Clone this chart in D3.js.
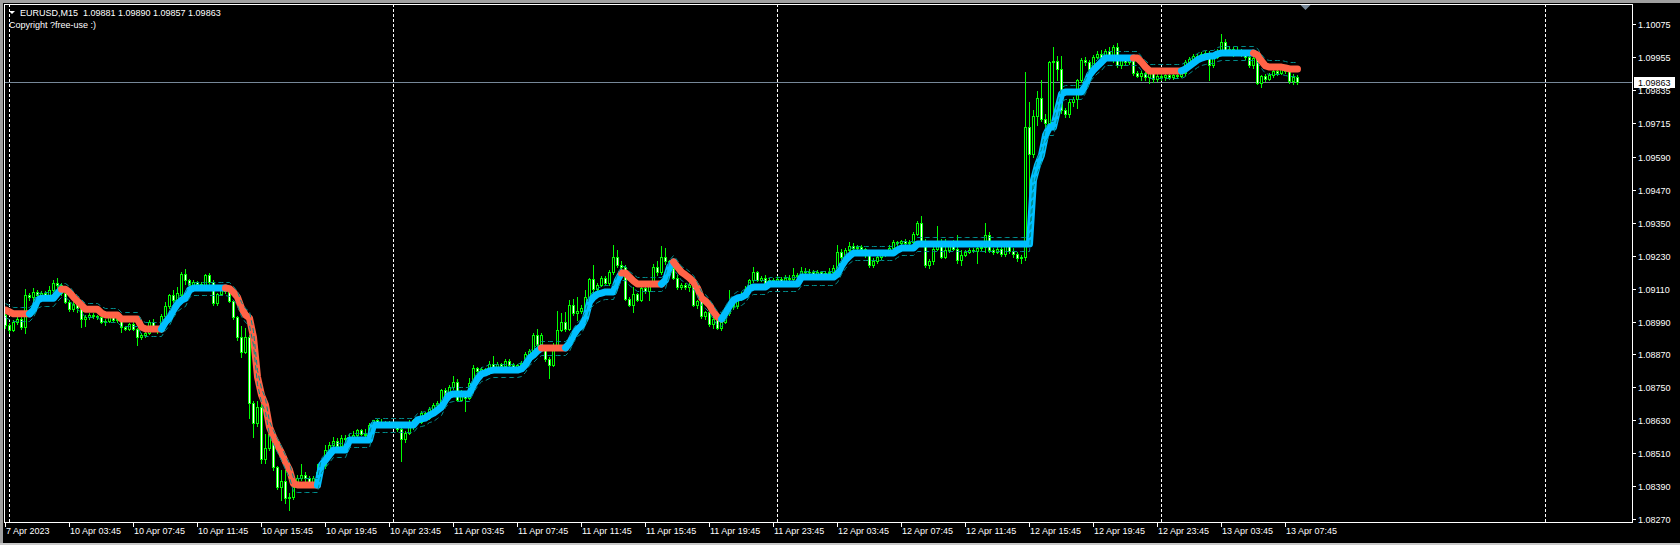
<!DOCTYPE html>
<html><head><meta charset="utf-8">
<script src="https://cdn.jsdelivr.net/npm/d3@7"></script>
<style>html,body{margin:0;padding:0;background:#000;overflow:hidden}svg{display:block}</style>
</head><body><div id="chart"></div>
<script>
// ---------- DATA ----------
const symbol = "EURUSD,M15";
const copyrightText = "Copyright ?free-use :)";
// prices are stored in points (0.00001) above this base price
const basePrice = 1.08;
const pointSize = 0.00001;

const openPts = [
1014,977,960,988,1000,970,1085,1080,1098,1085,
1093,1088,1105,1130,1122,1095,1063,1035,1055,1040,
998,1005,1015,1010,1005,988,992,1010,995,1000,
970,963,980,962,935,942,950,990,972,968,
1012,1048,1085,1070,1087,1165,1140,1125,1135,1128,
1118,1158,1135,1058,1090,1110,1100,1065,1005,935,
880,935,693,620,680,490,530,580,458,388,
410,345,350,390,418,432,420,405,418,440,
468,520,540,555,535,565,560,570,575,595,
580,575,612,630,625,610,620,615,612,600,
560,585,605,630,625,655,640,670,685,693,
740,722,750,770,705,730,712,765,820,810,
818,805,835,820,835,828,845,832,822,830,
838,872,882,940,905,890,852,832,905,958,
990,962,1050,1020,1030,1040,1080,1145,1110,1125,
1148,1130,1170,1225,1195,1190,1072,1050,1090,1070,
1112,1100,1125,1190,1170,1225,1210,1185,1150,1115,
1125,1115,1122,1050,1065,1010,1025,980,1000,968,
990,1020,1060,1045,1075,1090,1110,1140,1170,1142,
1150,1132,1140,1135,1145,1138,1150,1145,1160,1155,
1175,1170,1172,1165,1170,1162,1168,1172,1185,1245,
1225,1250,1265,1258,1262,1255,1232,1195,1212,1225,
1240,1235,1260,1280,1275,1282,1275,1280,1310,1350,
1285,1195,1210,1255,1285,1225,1250,1275,1255,1215,
1232,1245,1252,1248,1258,1262,1305,1252,1245,1255,
1235,1265,1248,1238,1220,1225,1700,1600,1740,1805,
1730,1715,1935,1940,1910,1760,1745,1790,1800,1870,
1945,1935,1910,1955,1965,1955,1975,1960,1990,1925,
1945,1935,1945,1895,1885,1895,1880,1895,1875,1885,
1880,1888,1882,1890,1885,1895,1935,1948,1958,1955,
1965,1970,1925,1955,1975,2010,1975,1985,1970,1980,
1968,1955,1925,1950,1860,1885,1875,1888,1905,1898,
1912,1905,1868,1881];

const highPts = [
1032,985,995,1010,1008,1110,1095,1112,1105,1100,
1100,1121,1141,1150,1130,1098,1068,1060,1068,1045,
1013,1022,1020,1015,1025,1000,1015,1014,1005,1003,
975,985,990,965,950,955,995,998,975,1018,
1060,1090,1105,1115,1170,1180,1145,1140,1138,1135,
1165,1168,1140,1095,1115,1112,1105,1070,1010,975,
965,940,700,700,690,580,590,585,462,450,
450,365,420,430,470,440,425,425,470,480,
540,550,570,565,575,575,580,590,600,600,
598,620,632,635,633,628,628,625,618,605,
590,630,635,640,665,660,678,692,700,745,
748,758,790,780,740,735,785,830,825,825,
820,845,865,842,840,852,852,838,835,845,
878,890,948,962,950,895,860,910,1027,1020,
1025,1068,1072,1080,1050,1105,1150,1195,1130,1155,
1155,1178,1270,1250,1210,1195,1078,1115,1095,1118,
1120,1130,1200,1210,1265,1260,1215,1195,1160,1132,
1130,1130,1125,1070,1070,1030,1030,1010,1005,1000,
1030,1105,1075,1085,1098,1118,1145,1190,1175,1155,
1160,1148,1150,1155,1152,1158,1160,1185,1168,1190,
1185,1180,1178,1178,1175,1175,1185,1195,1268,1255,
1258,1280,1275,1268,1270,1260,1240,1220,1230,1248,
1250,1268,1288,1285,1288,1290,1288,1318,1358,1375,
1290,1218,1262,1340,1292,1290,1282,1288,1305,1250,
1252,1258,1258,1262,1272,1350,1318,1260,1262,1262,
1272,1270,1258,1242,1232,1900,1790,1760,1830,1870,
1745,1940,1990,1960,1960,1770,1800,1810,1875,1950,
1955,1945,1962,1975,1980,1985,1990,2000,2005,1960,
1955,1958,1950,1905,1905,1900,1905,1900,1895,1892,
1895,1895,1898,1895,1902,1942,1955,1965,1965,1972,
1978,1975,1965,1985,2040,2020,1995,1992,1990,1985,
1972,1965,1960,1955,1890,1892,1895,1912,1912,1918,
1915,1912,1892,1890];

const lowPts = [
966,950,955,980,962,948,1070,1062,1078,1075,
1080,1080,1100,1112,1088,1058,1028,1030,1025,970,
972,1000,1003,998,985,978,988,990,990,952,
958,958,958,905,928,935,945,968,948,952,
1008,1040,1062,1065,1080,1128,1118,1118,1120,1112,
1115,1110,1050,1050,1085,1095,1060,1000,922,860,
875,640,570,610,475,475,520,450,380,340,
330,302,342,385,414,410,398,400,395,435,
455,505,525,528,530,550,555,560,565,575,
572,570,598,618,605,605,610,605,590,480,
550,580,600,618,620,630,635,662,680,688,
718,718,745,700,700,665,708,760,800,805,
798,800,815,815,820,820,828,818,815,825,
822,868,878,900,898,845,785,828,900,955,
955,958,1015,995,1020,1035,1075,1095,1105,1120,
1125,1125,1165,1190,1170,1068,1045,1025,1065,1065,
1095,1068,1120,1160,1165,1200,1180,1145,1108,1108,
1110,1100,1045,1040,1003,1000,975,968,962,960,
985,1015,1035,1040,1068,1085,1100,1135,1138,1138,
1128,1125,1125,1130,1130,1132,1140,1138,1148,1150,
1165,1165,1158,1160,1155,1158,1162,1165,1180,1218,
1220,1245,1250,1252,1248,1225,1188,1190,1205,1218,
1228,1232,1255,1268,1270,1270,1268,1275,1305,1278,
1188,1185,1200,1250,1220,1220,1245,1250,1205,1195,
1228,1240,1242,1205,1250,1245,1245,1238,1240,1228,
1228,1240,1225,1212,1205,1215,1350,1590,1706,1720,
1700,1700,1700,1870,1750,1735,1735,1775,1770,1865,
1925,1900,1905,1950,1948,1950,1955,1935,1918,1915,
1925,1930,1888,1880,1870,1870,1860,1865,1868,1870,
1872,1875,1876,1878,1880,1890,1930,1945,1948,1950,
1960,1870,1918,1950,1970,1965,1965,1960,1962,1960,
1948,1920,1915,1855,1845,1868,1870,1880,1890,1892,
1898,1860,1855,1857];

const closePts = [
977,959,988,1000,970,1085,1080,1098,1085,1093,
1088,1105,1130,1122,1095,1063,1035,1055,1040,998,
1005,1015,1010,1005,988,992,1010,995,1000,970,
963,980,962,935,942,950,990,972,955,1012,
1048,1085,1070,1095,1165,1140,1125,1135,1128,1118,
1158,1135,1058,1090,1110,1100,1065,1005,935,880,
935,693,620,680,490,530,580,458,388,410,
345,350,385,418,432,420,405,418,440,468,
520,540,555,535,565,560,570,575,595,580,
575,612,630,625,610,620,615,612,600,560,
585,605,630,625,655,640,670,685,693,740,
722,750,770,705,730,712,765,820,810,818,
805,835,820,835,828,845,832,822,830,838,
872,882,940,905,940,852,832,905,958,990,
962,1050,1020,1030,1040,1080,1145,1110,1125,1148,
1130,1170,1225,1195,1190,1072,1050,1090,1070,1112,
1100,1125,1190,1170,1225,1210,1185,1150,1115,1125,
1115,1122,1050,1065,1010,1025,980,1000,968,990,
1020,1060,1045,1075,1090,1110,1140,1170,1142,1150,
1132,1140,1135,1145,1138,1150,1145,1160,1155,1175,
1170,1172,1165,1170,1162,1168,1172,1185,1245,1225,
1250,1265,1258,1262,1255,1232,1195,1212,1225,1240,
1235,1260,1280,1275,1282,1275,1280,1310,1350,1285,
1195,1210,1255,1285,1225,1250,1275,1255,1215,1232,
1245,1252,1248,1258,1262,1305,1252,1245,1255,1235,
1265,1248,1238,1220,1225,1700,1600,1740,1805,1730,
1715,1935,1940,1910,1760,1745,1790,1800,1870,1945,
1935,1910,1955,1965,1955,1975,1960,1990,1925,1945,
1935,1945,1895,1885,1895,1880,1895,1875,1885,1880,
1888,1882,1890,1885,1895,1935,1948,1958,1955,1965,
1970,1925,1955,1975,2010,1975,1985,1970,1980,1968,
1955,1925,1950,1860,1885,1875,1888,1905,1898,1912,
1905,1868,1881,1863];

// trend indicator: [bar, points] – value holds until next entry
const trendKnots = [[0,1032],[1,1025],[2,1018],[7,1032],[8,1068],[9,1075],[13,1093],[14,1108],[16,1097],[17,1079],[18,1064],[19,1050],[20,1035],[24,1021],[25,1014],[29,999],[34,970],[35,963],[40,988],[41,1003],[42,1032],[43,1054],[44,1068],[45,1075],[46,1105],[47,1112],[56,1110],[57,1097],[58,1079],[59,1039],[60,1014],[61,1003],[62,933],[63,788],[64,722],[65,686],[66,605],[67,569],[68,540],[69,511],[70,478],[71,449],[72,398],[73,394],[79,467],[80,485],[81,504],[82,522],[86,558],[92,613],[103,631],[104,635],[105,638],[106,649],[107,656],[108,667],[109,678],[110,704],[111,722],[112,726],[117,759],[118,781],[119,799],[120,803],[121,810],[122,813],[129,817],[130,832],[131,857],[132,868],[133,883],[134,894],[141,911],[142,941],[143,963],[144,974],[145,1003],[146,1061],[147,1079],[148,1090],[149,1094],[150,1098],[153,1141],[154,1167],[156,1152],[157,1138],[158,1127],[165,1141],[166,1189],[167,1207],[168,1189],[169,1170],[170,1160],[171,1149],[172,1134],[173,1112],[174,1076],[175,1065],[176,1050],[177,1025],[178,1006],[179,999],[180,1021],[181,1047],[182,1068],[183,1076],[184,1079],[185,1087],[186,1109],[187,1116],[191,1127],[199,1152],[208,1163],[209,1192],[210,1214],[211,1229],[212,1240],[223,1251],[224,1258],[228,1273],[257,1506],[258,1561],[259,1597],[260,1670],[261,1699],[263,1761],[264,1820],[265,1827],[270,1852],[271,1889],[272,1907],[273,1922],[274,1936],[275,1951],[284,1936],[285,1918],[286,1904],[295,1911],[296,1922],[297,1933],[298,1944],[299,1951],[300,1955],[301,1958],[303,1966],[304,1969],[313,1962],[314,1940],[315,1922],[316,1918],[320,1915],[321,1911]];
// trend direction: [bar, 1 = up (blue) / 0 = down (red)]
const trendDirs = [[0,0],[7,1],[15,0],[40,1],[56,0],[79,1],[135,0],[141,1],[155,0],[165,1],[168,0],[180,1],[283,0],[295,1],[313,0]];

const upperKnots = [[0,1056],[1,1049],[2,1042],[7,1056],[8,1092],[9,1099],[13,1117],[14,1132],[16,1121],[17,1103],[18,1088],[19,1074],[20,1059],[24,1045],[25,1038],[29,1023],[34,994],[35,987],[40,1012],[41,1027],[42,1056],[43,1078],[44,1092],[45,1099],[46,1129],[47,1136],[56,1134],[57,1121],[58,1103],[59,1063],[60,1038],[61,1027],[62,957],[63,812],[64,746],[65,710],[66,629],[67,593],[68,564],[69,535],[70,502],[71,473],[72,422],[73,418],[79,491],[80,509],[81,528],[82,546],[86,582],[92,637],[103,655],[104,659],[105,662],[106,673],[107,680],[108,691],[109,702],[110,728],[111,746],[112,750],[117,783],[118,805],[119,823],[120,827],[121,834],[122,837],[129,841],[130,856],[131,881],[132,892],[133,907],[134,918],[141,935],[142,965],[143,987],[144,998],[145,1027],[146,1085],[147,1103],[148,1114],[149,1118],[150,1122],[153,1165],[154,1191],[156,1176],[157,1162],[158,1151],[165,1165],[166,1213],[167,1231],[168,1213],[169,1194],[170,1184],[171,1173],[172,1158],[173,1136],[174,1100],[175,1089],[176,1074],[177,1049],[178,1030],[179,1023],[180,1045],[181,1071],[182,1092],[183,1100],[184,1103],[185,1111],[186,1133],[187,1140],[191,1151],[199,1176],[208,1187],[209,1216],[210,1238],[211,1253],[212,1264],[223,1275],[224,1282],[228,1297],[257,1530],[258,1585],[259,1621],[260,1694],[261,1723],[263,1785],[264,1844],[265,1851],[270,1876],[271,1913],[272,1931],[273,1946],[274,1960],[275,1975],[284,1960],[285,1942],[286,1928],[295,1935],[296,1946],[297,1957],[298,1968],[299,1975],[300,1979],[301,1982],[303,1990],[304,1993],[313,1986],[314,1964],[315,1946],[316,1942],[320,1939],[321,1935]];
const lowerKnots = [[0,1005],[1,998],[2,991],[7,1005],[8,1041],[9,1048],[13,1066],[14,1081],[16,1070],[17,1052],[18,1037],[19,1023],[20,1008],[24,994],[25,987],[29,972],[34,943],[35,936],[40,961],[41,976],[42,1005],[43,1027],[44,1041],[45,1048],[46,1078],[47,1085],[56,1083],[57,1070],[58,1052],[59,1012],[60,987],[61,976],[62,906],[63,761],[64,695],[65,659],[66,578],[67,542],[68,513],[69,484],[70,451],[71,422],[72,371],[73,367],[79,440],[80,458],[81,477],[82,495],[86,531],[92,586],[103,604],[104,608],[105,611],[106,622],[107,629],[108,640],[109,651],[110,677],[111,695],[112,699],[117,732],[118,754],[119,772],[120,776],[121,783],[122,786],[129,790],[130,805],[131,830],[132,841],[133,856],[134,867],[141,884],[142,914],[143,936],[144,947],[145,976],[146,1034],[147,1052],[148,1063],[149,1067],[150,1071],[153,1114],[154,1140],[156,1125],[157,1111],[158,1100],[165,1114],[166,1162],[167,1180],[168,1162],[169,1143],[170,1133],[171,1122],[172,1107],[173,1085],[174,1049],[175,1038],[176,1023],[177,998],[178,979],[179,972],[180,994],[181,1020],[182,1041],[183,1049],[184,1052],[185,1060],[186,1082],[187,1089],[191,1100],[199,1125],[208,1136],[209,1165],[210,1187],[211,1202],[212,1213],[223,1224],[224,1231],[228,1246],[257,1479],[258,1534],[259,1570],[260,1643],[261,1672],[263,1734],[264,1793],[265,1800],[270,1825],[271,1862],[272,1880],[273,1895],[274,1909],[275,1924],[284,1909],[285,1891],[286,1877],[295,1884],[296,1895],[297,1906],[298,1917],[299,1924],[300,1928],[301,1931],[303,1939],[304,1942],[313,1935],[314,1913],[315,1895],[316,1891],[320,1888],[321,1884]];

const priceTicks = [1.10075,1.09955,1.09835,1.09715,1.09590,1.09470,1.09350,1.09230,1.09110,1.08990,1.08870,1.08750,1.08630,1.08510,1.08390,1.08270];
const timeTickBars = [0,16,32,48,64,80,96,112,128,144,160,176,192,208,224,240,256,272,288,304,320];
const timeTickLabels = ["7 Apr 2023","10 Apr 03:45","10 Apr 07:45","10 Apr 11:45","10 Apr 15:45","10 Apr 19:45","10 Apr 23:45","11 Apr 03:45","11 Apr 07:45","11 Apr 11:45","11 Apr 15:45","11 Apr 19:45","11 Apr 23:45","12 Apr 03:45","12 Apr 07:45","12 Apr 11:45","12 Apr 15:45","12 Apr 19:45","12 Apr 23:45","13 Apr 03:45","13 Apr 07:45"];
const daySeparatorBars = [1,97,193,289,385];

// ---------- RENDER ----------
const W = 1680, H = 545;
const frame = {left:4, top:4, right:1632, bottom:522};
const FONT = "'Liberation Sans', Arial, sans-serif";
const n = closePts.length;
const price = p => basePrice + p * pointSize;
const stepAt = (knots, i) => { let v = knots[0][1]; for (const k of knots) { if (k[0] <= i) v = k[1]; else break; } return v; };

const x = d3.scaleLinear().domain([0, n - 1]).range([5, 5 + 4 * (n - 1)]);
const y = d3.scaleLinear().domain([1.08270, 1.10075]).range([519, 24]);
const py = v => Math.round(y(v));

const svg = d3.select("#chart").append("svg").attr("width", W).attr("height", H);
svg.append("rect").attr("width", W).attr("height", H).attr("fill", "#000");
// window border
svg.append("rect").attr("x",0).attr("y",0).attr("width",W).attr("height",3).attr("fill","#a0a0a0");
svg.append("rect").attr("x",0).attr("y",0).attr("width",3).attr("height",H).attr("fill","#a0a0a0");
svg.append("rect").attr("x",0).attr("y",543).attr("width",W).attr("height",2).attr("fill","#c8c8c8");

const defs = svg.append("defs");
defs.append("clipPath").attr("id","plotClip").append("rect")
  .attr("x", frame.left + 1).attr("y", frame.top + 1)
  .attr("width", frame.right - frame.left - 1).attr("height", frame.bottom - frame.top - 1);
const plot = svg.append("g").attr("clip-path","url(#plotClip)");

// day separators
plot.append("g").selectAll("line").data(daySeparatorBars).join("line")
  .attr("x1", b => x(b) + 0.5).attr("x2", b => x(b) + 0.5)
  .attr("y1", frame.top).attr("y2", frame.bottom)
  .attr("stroke", "#fff").attr("stroke-width", 1).attr("stroke-dasharray", "3,2")
  .attr("shape-rendering", "crispEdges");

// current price line
const lastClose = price(closePts[n - 1]);
plot.append("line").attr("x1", frame.left).attr("x2", frame.right)
  .attr("y1", py(lastClose) + 0.5).attr("y2", py(lastClose) + 0.5)
  .attr("stroke", "#778899").attr("shape-rendering", "crispEdges");

// candles
const bars = d3.range(n);
const cg = plot.append("g").attr("shape-rendering", "crispEdges");
bars.forEach(i => {
  const o = price(openPts[i]), h = price(highPts[i]), l = price(lowPts[i]), c = price(closePts[i]);
  const cx = x(i);
  const yh = py(h), yl = py(l);
  cg.append("rect").attr("x", cx).attr("y", yh).attr("width", 1).attr("height", yl - yh + 1).attr("fill", "#00ff00");
  const top = py(Math.max(o, c)), bot = py(Math.min(o, c));
  if (bot - top < 1) {
    cg.append("rect").attr("x", cx - 1).attr("y", top).attr("width", 3).attr("height", 1).attr("fill", "#00ff00");
  } else {
    cg.append("rect").attr("x", cx - 1).attr("y", top).attr("width", 3).attr("height", bot - top + 1).attr("fill", "#00ff00");
    if (bot - top > 1) cg.append("rect").attr("x", cx).attr("y", top + 1).attr("width", 1).attr("height", bot - top - 1)
      .attr("fill", c >= o ? "#000" : "#fff");
  }
});

// trend line (thick, two colours)
const tv = bars.map(i => price(stepAt(trendKnots, i)));
const dv = bars.map(i => stepAt(trendDirs, i));
const runs = [];
let cur = {dir: dv[0], pts: [0]};
for (let i = 1; i < n; i++) {
  if (dv[i] !== cur.dir) { runs.push(cur); cur = {dir: dv[i], pts: [i - 1]}; }
  cur.pts.push(i);
}
runs.push(cur);
const tline = d3.line().x(i => x(i) + 0.5).y(i => y(tv[i]));
plot.append("g").selectAll("path").data(runs).join("path")
  .attr("d", r => tline(r.pts))
  .attr("fill", "none")
  .attr("stroke", r => r.dir ? "#00bfff" : "#ff6347")
  .attr("stroke-width", 7).attr("stroke-linecap", "round").attr("stroke-linejoin", "round");

// channel bands (dashed)
[upperKnots, lowerKnots].forEach(knots => {
  const vals = bars.map(i => price(stepAt(knots, i)));
  plot.append("path")
    .attr("d", d3.line().x(i => x(i) + 0.5).y(i => Math.round(y(vals[i])) + 0.5)(bars))
    .attr("fill", "none").attr("stroke", "#008b8b").attr("stroke-width", 1)
    .attr("stroke-dasharray", "5,3");
});

// frame
const fg = svg.append("g").attr("shape-rendering", "crispEdges").attr("stroke", "#fff").attr("stroke-width", 1);
fg.append("line").attr("x1", frame.left).attr("x2", frame.right + 1).attr("y1", frame.top + 0.5).attr("y2", frame.top + 0.5);
fg.append("line").attr("x1", frame.left + 0.5).attr("x2", frame.left + 0.5).attr("y1", frame.top).attr("y2", frame.bottom + 1);
fg.append("line").attr("x1", frame.right + 0.5).attr("x2", frame.right + 0.5).attr("y1", frame.top).attr("y2", frame.bottom + 1);
fg.append("line").attr("x1", frame.left).attr("x2", frame.right + 1).attr("y1", frame.bottom + 0.5).attr("y2", frame.bottom + 0.5);

// price axis
const ya = svg.append("g");
ya.selectAll("line").data(priceTicks).join("line")
  .attr("x1", frame.right + 1).attr("x2", frame.right + 4)
  .attr("y1", v => py(v) + 0.5).attr("y2", v => py(v) + 0.5)
  .attr("stroke", "#fff").attr("shape-rendering", "crispEdges");
ya.selectAll("text").data(priceTicks).join("text")
  .attr("x", frame.right + 6).attr("y", v => py(v) + 4)
  .attr("fill", "#fff").attr("font-family", FONT).attr("font-size", "9px")
  .text(v => v.toFixed(5));

// last price label
const lpY = py(lastClose);
svg.append("rect").attr("x", frame.right + 2).attr("y", lpY - 5).attr("width", 41).attr("height", 11).attr("fill", "#fff");
svg.append("text").attr("x", frame.right + 6).attr("y", lpY + 4)
  .attr("fill", "#000").attr("font-family", FONT).attr("font-size", "9px").text(lastClose.toFixed(5));

// time axis
const xa = svg.append("g");
xa.selectAll("line").data(timeTickBars).join("line")
  .attr("x1", b => x(b) + 0.5).attr("x2", b => x(b) + 0.5)
  .attr("y1", frame.bottom + 1).attr("y2", frame.bottom + 5)
  .attr("stroke", "#fff").attr("shape-rendering", "crispEdges");
xa.selectAll("text").data(timeTickBars).join("text")
  .attr("x", b => x(b) + 1).attr("y", frame.bottom + 12)
  .attr("fill", "#fff").attr("font-family", FONT).attr("font-size", "9px")
  .text((b, k) => timeTickLabels[k]);

// chart shift marker
const sx = x(n + 1) + 0.5;
svg.append("path").attr("d", `M${sx - 5},${frame.top + 1}L${sx + 5},${frame.top + 1}L${sx},${frame.top + 6}Z`).attr("fill", "#778899");

// header
svg.append("path").attr("d", "M9,11L15,11L12,14Z").attr("fill", "#fff");
const last = n - 1;
const ohlc = [openPts[last], highPts[last], lowPts[last], closePts[last]].map(p => price(p).toFixed(5)).join(" ");
svg.append("text").attr("x", 20).attr("y", 16).attr("fill", "#fff").attr("font-family", FONT).attr("font-size", "9px")
  .style("white-space", "pre").text(`${symbol}  ${ohlc}`);
svg.append("text").attr("x", 9).attr("y", 28).attr("fill", "#fff").attr("font-family", FONT).attr("font-size", "9px")
  .text(copyrightText);
</script>
</body></html>
